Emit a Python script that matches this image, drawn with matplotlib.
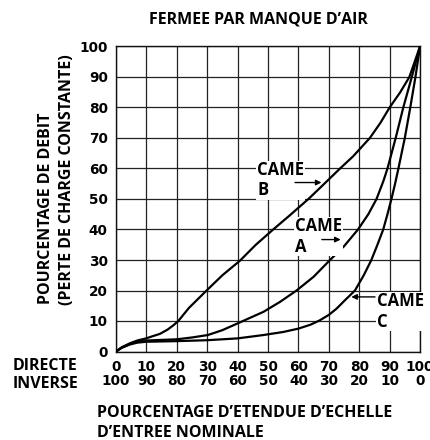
import matplotlib
matplotlib.use("Agg")
from matplotlib import pyplot as plt

# ---- data ----
came_b_x = [0, 1.9, 4.6, 7, 9.9, 12, 14.5, 17, 19, 20.5, 24, 29.8, 35, 40.8, 46, 51.7, 57,
            63.3, 68, 73.7, 78, 83.5, 87, 90, 93.5, 96.5, 100]
came_b_y = [0, 1.4, 2.7, 3.6, 4.3, 5, 5.8, 7.2, 8.7, 10, 14.3, 20, 25, 29.8, 35, 40, 44.5,
            50, 54.5, 60, 64, 70, 75, 80, 85, 90, 100]

came_a_x = [0, 1.9, 4.6, 7, 10, 15, 20, 25, 30.2, 35, 40.2, 44, 48.5, 54, 59.4, 65,
            70.4, 75, 79.6, 83, 85.7, 88, 89.3, 92, 94.5, 97.3, 100]
came_a_y = [0, 1.3, 2.5, 3.2, 3.6, 3.8, 4, 4.6, 5.4, 7, 9.3, 11, 13, 16.3, 20, 24.5,
            30, 34.5, 40, 45, 50, 56, 60, 70, 80, 90, 100]

came_c_x = [0, 1.9, 4.6, 7, 10, 20, 30, 40, 48.5, 55, 60, 64, 67, 70, 72.5, 75, 78.6,
            81.5, 84, 86, 87.9, 89.3, 90.6, 91.8, 92.9, 95, 96.8, 98.5, 100]
came_c_y = [0, 1.2, 2.3, 2.9, 3.2, 3.4, 3.7, 4.3, 5.4, 6.4, 7.5, 8.8, 10.2, 12, 14, 16.5, 20,
            25, 30, 35, 40, 45, 50, 55, 60, 70, 80, 90, 100]

ticks = [0, 10, 20, 30, 40, 50, 60, 70, 80, 90, 100]
directe = ["0", "10", "20", "30", "40", "50", "60", "70", "80", "90", "100"]
inverse = ["100", "90", "80", "70", "60", "50", "40", "30", "20", "10", "0"]

labels = ["CAME\nB", "CAME\nA", "CAME\nC"]
label_pos = [(46.4, 56.1), (58.9, 37.7), (85.9, 13.1)]
arrow_from = [(58.9, 55.4), (67.7, 36.7), (85.2, 17.9)]
arrow_to = [(67.6, 55.4), (73.9, 36.7), (77.4, 17.9)]

TXT = "Open Sans"

fig = plt.figure(figsize=(4.3, 4.4), dpi=100)
ax = fig.add_axes([116/430, (440-351.5)/440, 304/430, 305/440])

for s in ax.spines.values():
    s.set_linewidth(1.0)
    s.set_color("#111111")

for cx, cy in [(came_b_x, came_b_y), (came_a_x, came_a_y), (came_c_x, came_c_y)]:
    ax.plot(cx, cy, color="black", lw=1.6, zorder=3,
            solid_joinstyle="round", solid_capstyle="round")

ax.set_xlim(0, 100)
ax.set_ylim(0, 100)
ax.set_xticks(ticks)
ax.set_yticks(ticks)
ax.set_xticklabels([d + "\n" + i for d, i in zip(directe, inverse)],
                   fontsize=9.8, fontweight="bold", family="DejaVu Sans", linespacing=1.0)
ax.set_yticklabels(directe, fontsize=9.8, fontweight="bold", family="DejaVu Sans")
ax.tick_params(axis="x", length=0, pad=6)
ax.tick_params(axis="y", length=0, pad=6)
ax.grid(True, color="#222222", lw=0.9)
ax.set_axisbelow(True)

for t, p, a0, a1 in zip(labels, label_pos, arrow_from, arrow_to):
    ax.text(p[0], p[1], t, fontsize=12, fontweight="bold", family=TXT, ha="left", va="center",
            linespacing=1.15, zorder=4, clip_on=False,
            bbox=dict(fc="white", ec="none", pad=0.5))
    ax.annotate("", xy=a1, xytext=a0, zorder=5,
                arrowprops=dict(arrowstyle="-|>", color="black", lw=1.0, mutation_scale=8,
                                shrinkA=0, shrinkB=0))

fig.text(258/430, 1-20/440, "FERMEE PAR MANQUE D\u2019AIR", ha="center", va="center",
         fontsize=11.5, fontweight="bold", family=TXT)
fig.text(46/430, 1-304/440, "POURCENTAGE DE DEBIT", rotation=90, ha="center", va="bottom",
         fontsize=11.5, fontweight="bold", family=TXT)
fig.text(67/430, 1-305/440, "(PERTE DE CHARGE CONSTANTE)", rotation=90, ha="center", va="bottom",
         fontsize=11.5, fontweight="bold", family=TXT)
fig.text(13/430, 1-366/440, "DIRECTE", ha="left", va="center",
         fontsize=11.5, fontweight="bold", family=TXT)
fig.text(13/430, 1-384/440, "INVERSE", ha="left", va="center",
         fontsize=11.5, fontweight="bold", family=TXT)
fig.text(97/430, 1-413/440, "POURCENTAGE D\u2019ETENDUE D\u2019ECHELLE", ha="left", va="center",
         fontsize=11.5, fontweight="bold", family=TXT)
fig.text(97/430, 1-433/440, "D\u2019ENTREE NOMINALE", ha="left", va="center",
         fontsize=11.5, fontweight="bold", family=TXT)

fig.savefig("out.png", dpi=100)
